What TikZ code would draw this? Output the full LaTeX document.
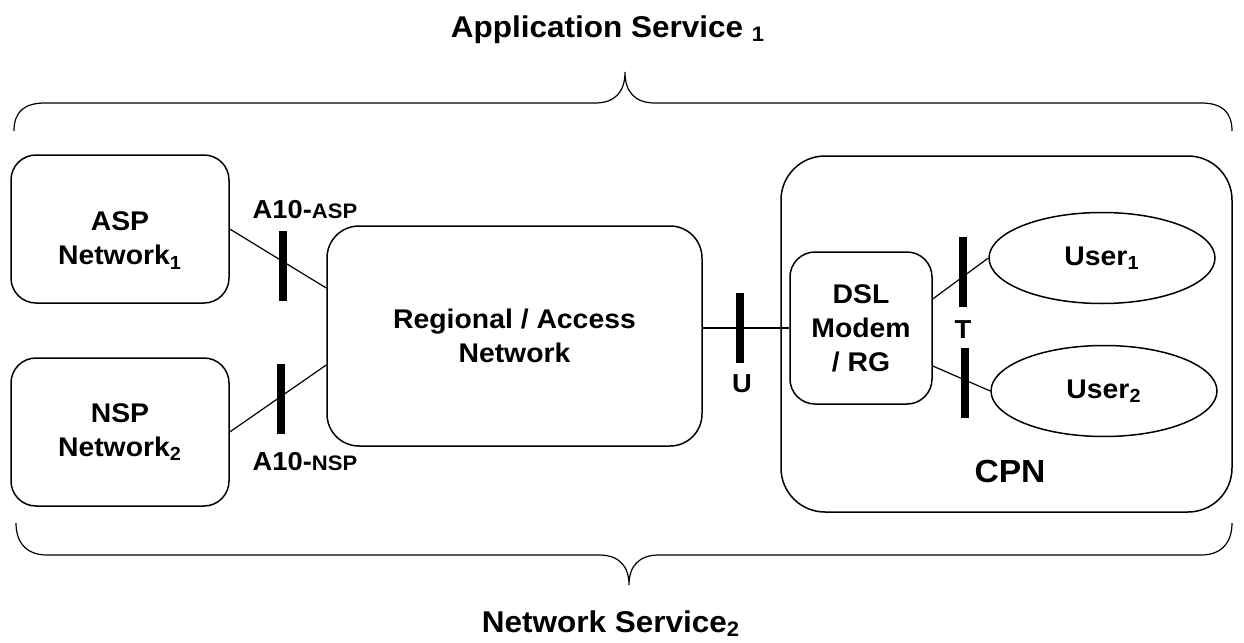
\documentclass[tikz,border=0pt]{standalone}
\usepackage{fontspec}
\setmainfont{Liberation Sans}[FakeStretch=1.05]
\usetikzlibrary{calc, shapes.geometric}

\begin{document}
\begin{tikzpicture}[x = 0.5pt, y = -0.5pt,
		box/.style = {draw, line width = 0.75pt, rounded corners = 12.5pt, align = center, inner sep = 0pt,
			font = \bfseries\fontsize{13.5}{17}\selectfont},
		bar/.style = {fill = black, minimum width = 4pt, minimum height = 35pt, inner sep = 0pt},
		user/.style = {draw, line width = 0.75pt, ellipse, minimum width = 113pt, minimum height = 45.5pt, inner sep = 0pt,
			font = \bfseries\fontsize{13.5}{17}\selectfont},
		lbl/.style = {inner sep = 0pt, font = \bfseries\fontsize{13}{15}\selectfont},
		title/.style = {inner sep = 0pt, anchor = base, font = \bfseries\fontsize{15}{17}\selectfont}]

			\useasboundingbox (0,0) rectangle (1244,643);

			% services
			\node [title] (appsvc) at (608,37) {Application Service \textsubscript{1}};
			\node [title] (netsvc) at (611,632) {Network Service\textsubscript{2}};

			\begin{scope}[line width = 0.6pt]
				\draw (14,131) .. controls (14,112) and (24,103) .. (45,103) -- (595,103)
					.. controls (615,103) and (625,92) .. (625,72)
					.. controls (625,92) and (635,103) .. (655,103) -- (1201,103)
					.. controls (1222,103) and (1232,112) .. (1232,131);
				\draw (16,523) .. controls (16,542) and (26,555) .. (47,555) -- (599,555)
					.. controls (619,555) and (629,566) .. (629,585)
					.. controls (629,566) and (639,555) .. (659,555) -- (1201,555)
					.. controls (1222,555) and (1232,542) .. (1232,523);
			\end{scope}

			% networks
			\node [box, minimum width = 109pt, minimum height = 74pt] (asp) at (120,229) {\rule{0pt}{21pt}ASP\\Network\textsubscript{1}};
			\node [box, minimum width = 109pt, minimum height = 74pt] (nsp) at (120,432) {NSP\\Network\textsubscript{2}};
			\node [box, rounded corners = 16pt, minimum width = 187.5pt, minimum height = 110pt] (reg) at (514.5,336) {Regional / Access\\Network};
			\node [box, rounded corners = 22pt, minimum width = 225.5pt, minimum height = 178pt] (cpn) at (1006.5,334) {};
			\node [lbl, font = \bfseries\fontsize{16}{18}\selectfont, anchor = base] (cpntxt) at (1010,482) {CPN};
			\node [box, minimum width = 71pt, minimum height = 76pt] (dsl) at (861,328) {DSL\\Modem\\/ RG};
			\node [user] (u1) at (1102,258) {User\textsubscript{1}};
			\node [user] (u2) at (1104,391) {User\textsubscript{2}};

			% links
			\begin{scope}[line width = 0.6pt]
				\draw (asp.east) -- ($(reg.west)+(0,-48)$);
				\draw (nsp.east) -- ($(reg.west)+(0,29)$);
				\draw (reg.east |- dsl.west) -- (dsl.west);
				\draw ($(dsl.east)+(0,-29)$) -- (u1.west);
				\draw ($(dsl.east)+(0,38)$) -- (u2.west);
			\end{scope}

			% reference points
			\node [bar] (barA) at (283,265.5) {};
			\node [bar] (barN) at (281,398.5) {};
			\node [bar] (barU) at (740,328) {};
			\node [bar] (barT1) at (963,272) {};
			\node [bar] (barT2) at (965,383) {};

			\node [lbl] (lblA) at (305,210) {A10-{\fontsize{10.5}{12}\selectfont ASP}};
			\node [lbl] (lblN) at (305,462) {A10-{\fontsize{10.5}{12}\selectfont NSP}};
			\node [lbl] (lblU) at (742,384) {U};
			\node [lbl] (lblT) at (963,330) {T};
		\end{tikzpicture}
\end{document}
